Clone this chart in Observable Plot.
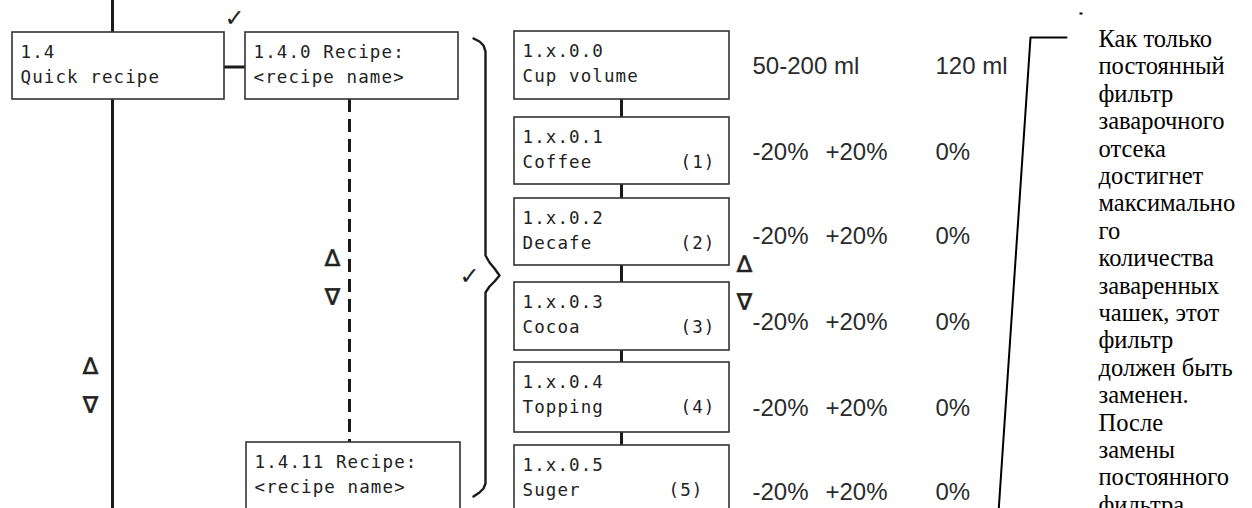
<!DOCTYPE html>
<html><head><meta charset="utf-8">
<script src="https://cdn.jsdelivr.net/npm/d3@7"></script>
<script src="https://cdn.jsdelivr.net/npm/@observablehq/plot@0.6"></script>
<style>
html,body{margin:0;padding:0;background:#fff;overflow:hidden}
#chart svg g[font-family="DejaVu Sans Mono"]{letter-spacing:1.1px}
</style></head><body><div id="chart"></div>
<script>
// ---------- content ----------
const recipeIds = ["1.4", "1.4.0 Recipe:", "1.4.11 Recipe:"];
const recipeNames = ["Quick recipe", "<recipe name>", "<recipe name>"];
const paramIds = ["1.x.0.0", "1.x.0.1", "1.x.0.2", "1.x.0.3", "1.x.0.4", "1.x.0.5"];
const paramNames = ["Cup volume", "Coffee", "Decafe", "Cocoa", "Topping", "Suger"];
const paramKeys = ["", "(1)", "(2)", "(3)", "(4)", "(5)"];
const minValues = ["50-200 ml", "-20%", "-20%", "-20%", "-20%", "-20%"];
const maxValues = ["", "+20%", "+20%", "+20%", "+20%", "+20%"];
const defaultValues = ["120 ml", "0%", "0%", "0%", "0%", "0%"];
const navSymbols = ["\u2206", "\u2207"];
const checkSymbol = "\u2713";
const noteLines = [
  "Как только", "постоянный", "фильтр", "заварочного", "отсека", "достигнет",
  "максимально", "го", "количества", "заваренных", "чашек, этот", "фильтр",
  "должен быть", "заменен.", "После", "замены", "постоянного", "фильтра"
];

// ---------- layout (page units, mapped through the x / y scales) ----------
const W = 1252, H = 508;
const recipeLeft = [12, 245, 246], recipeRight = [224, 458, 460];
const recipeTop = [32, 32, 442], recipeBottom = [99, 99, 530];
const paramLeft = 514, paramRight = 729;
const paramTop = [31, 117, 198, 282, 362, 445];
const paramBottom = [99, 184, 265, 350, 432, 530];
const keyRight = [715, 715, 715, 715, 715, 703];
const valueY = [66, 152, 236, 322, 408, 492];
const minX = 752, maxX = 825, defX = 935;
const mainLineX = 112, dashLineX = 349, paramLinkX = 621;
const navPos = [{x: 90, y: [366, 405]}, {x: 332, y: [258, 297]}, {x: 744, y: [264, 302]}];
const checkPos = [{x: 234, y: 18}, {x: 469, y: 276}];
const brace = [[473,38],[479,41],[483,45],[485,51],[485,255],[489,262],[494,268],[499,275],[494,281],[489,286],[485,292],[485,483],[483,488],[479,492],[473,496]];
const callout = [[1066,37],[1030,37],[998,512]];
const noteX = 1098, noteTop = 27, noteSize = 24.5, noteLead = 27.4;

// ---------- tables ----------
const recipeBoxes = recipeIds.map((id, i) => ({id, name: recipeNames[i], x1: recipeLeft[i], x2: recipeRight[i], y1: recipeTop[i], y2: recipeBottom[i]}));
const paramBoxes = paramIds.map((id, i) => ({id, name: paramNames[i], key: paramKeys[i], x1: paramLeft, x2: paramRight, y1: paramTop[i], y2: paramBottom[i], kx: keyRight[i]}));
const allBoxes = [...recipeBoxes, ...paramBoxes];
const links = paramBoxes.slice(0, -1).map((b, i) => ({y1: b.y2, y2: paramBoxes[i + 1].y1}));
const rows = minValues.map((v, i) => ({min: v, max: maxValues[i], def: defaultValues[i], y: valueY[i]}));
const navMarks = navPos.flatMap(p => navSymbols.map((s, j) => ({s, x: p.x, y: p.y[j]})));
const checks = checkPos.map(p => ({...p, s: checkSymbol}));
const braceData = brace.map(([x, y]) => ({x, y}));
const calloutData = callout.map(([x, y]) => ({x, y}));

const mono = {fontFamily: "DejaVu Sans Mono", fontSize: 17.5, fill: "#222", textAnchor: "start", lineAnchor: "middle"};
const sans = {fontFamily: "Liberation Sans", fontSize: 24, fill: "#2b2b2b", textAnchor: "start", lineAnchor: "middle"};

const chart = Plot.plot({
  width: W, height: H, margin: 0,
  style: {background: "#fff"},
  x: {domain: [0, W], range: [0, W], axis: null},
  y: {domain: [0, H], range: [0, H], axis: null},
  marks: [
    Plot.ruleX([mainLineX], {y1: 0, y2: H, stroke: "#1a1a1a", strokeWidth: 3}),
    Plot.ruleY([recipeBoxes[0]], {y: d => (d.y1 + d.y2) / 2 + 1, x1: d => d.x2, x2: () => recipeBoxes[1].x1, stroke: "#1a1a1a", strokeWidth: 3}),
    Plot.ruleX([dashLineX], {y1: recipeBoxes[1].y2, y2: recipeBoxes[2].y1, stroke: "#1a1a1a", strokeWidth: 3, strokeDasharray: "13,7"}),
    Plot.ruleX(links, {x: paramLinkX, y1: "y1", y2: "y2", stroke: "#1a1a1a", strokeWidth: 3}),
    Plot.rect(allBoxes, {x1: "x1", x2: "x2", y1: "y1", y2: "y2", fill: "#fff", stroke: "#333", strokeWidth: 1.6, clip: true}),
    Plot.text(allBoxes, {x: d => d.x1 + 8, y: d => d.y1 + 20, text: "id", ...mono}),
    Plot.text(allBoxes, {x: d => d.x1 + 8, y: d => d.y1 + 45, text: "name", ...mono}),
    Plot.text(paramBoxes, {x: "kx", y: d => d.y1 + 45, text: "key", ...mono, textAnchor: "end"}),
    Plot.text(rows, {x: minX, y: "y", text: "min", ...sans}),
    Plot.text(rows, {x: maxX, y: "y", text: "max", ...sans}),
    Plot.text(rows, {x: defX, y: "y", text: "def", ...sans}),
    Plot.text(navMarks, {x: "x", y: "y", text: "s", fontFamily: "DejaVu Sans", fontSize: 23, stroke: "#222", strokeWidth: 0.6, fill: "#222", lineAnchor: "middle"}),
    Plot.text(checks, {x: "x", y: "y", text: "s", fontFamily: "DejaVu Sans", fontSize: 24, fill: "#222", lineAnchor: "middle"}),
    Plot.line(braceData, {x: "x", y: "y", stroke: "#1a1a1a", strokeWidth: 2.4, curve: "linear"}),
    Plot.line(calloutData, {x: "x", y: "y", stroke: "#000", strokeWidth: 2, clip: true}),
    Plot.link([{x1: 1079, x2: 1082, y: 13}], {x1: "x1", x2: "x2", y1: "y", y2: "y", stroke: "#000", strokeWidth: 2}),
    Plot.text([noteLines.join("\n")], {x: noteX, y: noteTop, text: d => d, fontFamily: "Liberation Serif", fontSize: noteSize, lineHeight: noteLead / noteSize, textAnchor: "start", lineAnchor: "top", fill: "#000"})
  ]
});
document.getElementById("chart").appendChild(chart);
</script></body></html>
